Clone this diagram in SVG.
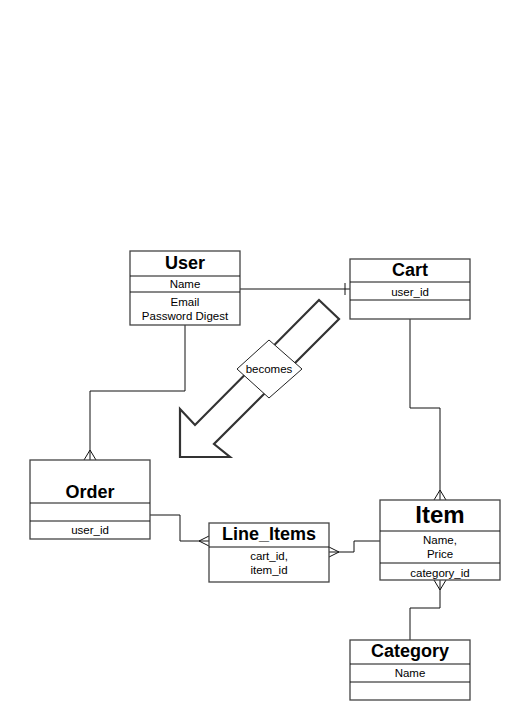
<svg xmlns="http://www.w3.org/2000/svg" width="522" height="722" viewBox="0 0 522 722">
<defs>
<style>
.box{fill:#fff;stroke:#444;stroke-width:1.3}
.div{stroke:#111;stroke-width:1;fill:none}
.t{font-family:"Liberation Sans",Arial,sans-serif;fill:#000;text-anchor:middle}
.h{font-size:18px;font-weight:bold}
.s{font-size:11.5px}
.c{stroke:#111;stroke-width:1;fill:none}
</style>
</defs>
<rect width="522" height="722" fill="#fff"/>
<g id="connectors">
<polyline class="c" points="240,289 350,289"/>
<line class="c" x1="345" y1="283" x2="345" y2="295"/>
<polyline class="c" points="185,325 185,391 90,391 90,460"/>
<polyline class="c" points="84,460 90,450 96,460"/>
<polyline class="c" points="410,319 410,408 440,408 440,500"/>
<polyline class="c" points="434,500 440,490 446,500"/>
<polyline class="c" points="150,515 180,515 180,541 209,541"/>
<polyline class="c" points="209,536 199,541 209,546"/>
<polyline class="c" points="329,552 354,552 354,541 380,541"/>
<polyline class="c" points="329,547 339,552 329,557"/>
<polyline class="c" points="440,580 440,608 410,608 410,640"/>
<polyline class="c" points="434,580 440,590 446,580"/>
</g>
<g id="becomes-arrow">
<polygon points="319,300 339,319 214,444 230,457 180,457 180,409 195,425" fill="#fff" stroke="#333" stroke-width="2.2" stroke-linejoin="miter"/>
<polygon points="269,340 302,369 269,398 237,369" fill="#fff" stroke="#222" stroke-width="1"/>
<text class="t s" x="269" y="373">becomes</text>
</g>
<g id="user">
<rect class="box" x="130" y="251" width="110" height="74"/>
<line class="div" x1="130" y1="276" x2="240" y2="276"/>
<line class="div" x1="130" y1="292" x2="240" y2="292"/>
<text class="t h" x="185" y="269">User</text>
<text class="t s" x="185" y="288">Name</text>
<text class="t s" x="185" y="306">Email</text>
<text class="t s" x="185" y="320">Password Digest</text>
</g>
<g id="cart">
<rect class="box" x="350" y="259" width="120" height="60"/>
<line class="div" x1="350" y1="282" x2="470" y2="282"/>
<line class="div" x1="350" y1="300" x2="470" y2="300"/>
<text class="t h" x="410" y="276">Cart</text>
<text class="t s" x="410" y="296">user_id</text>
</g>
<g id="order">
<rect class="box" x="30" y="460" width="120" height="79"/>
<line class="div" x1="30" y1="503" x2="150" y2="503"/>
<line class="div" x1="30" y1="521" x2="150" y2="521"/>
<text class="t h" x="90" y="498">Order</text>
<text class="t s" x="90" y="534">user_id</text>
</g>
<g id="line_items">
<rect class="box" x="209" y="523" width="120" height="59"/>
<line class="div" x1="209" y1="547" x2="329" y2="547"/>
<text class="t h" x="269" y="540">Line_Items</text>
<text class="t s" x="269" y="560">cart_id,</text>
<text class="t s" x="269" y="574">item_id</text>
</g>
<g id="item">
<rect class="box" x="380" y="500" width="120" height="80"/>
<line class="div" x1="380" y1="531" x2="500" y2="531"/>
<line class="div" x1="380" y1="563" x2="500" y2="563"/>
<text class="t" x="440" y="523" font-size="24" font-weight="bold">Item</text>
<text class="t s" x="440" y="544">Name,</text>
<text class="t s" x="440" y="558">Price</text>
<text class="t s" x="440" y="577">category_id</text>
</g>
<g id="category">
<rect class="box" x="350" y="640" width="120" height="60"/>
<line class="div" x1="350" y1="664" x2="470" y2="664"/>
<line class="div" x1="350" y1="682" x2="470" y2="682"/>
<text class="t h" x="410" y="657">Category</text>
<text class="t s" x="410" y="677">Name</text>
</g>
</svg>
